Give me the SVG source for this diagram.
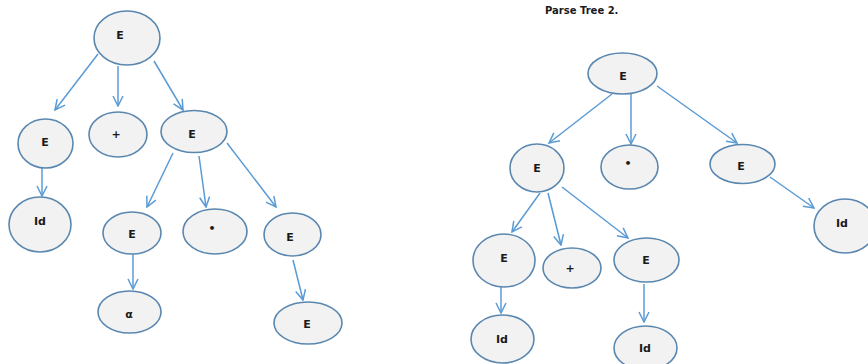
<svg xmlns="http://www.w3.org/2000/svg" width="868" height="364" viewBox="0 0 868 364">
<defs>
<marker id="arr" viewBox="0 0 12 12" refX="11" refY="6" markerWidth="12" markerHeight="12" markerUnits="userSpaceOnUse" orient="auto">
<path d="M1,1 L11,6 L1,11" fill="none" stroke="#5B9BD5" stroke-width="1.5"/>
</marker>
<style>
.n ellipse{fill:#F2F2F2;stroke:#5A87B0;stroke-width:1.6}
.n text{font-family:"DejaVu Sans","Liberation Sans",sans-serif;font-size:11px;font-weight:bold;fill:#1a1a1a;text-anchor:middle;dominant-baseline:central}
#edges line{stroke:#5B9BD5;stroke-width:1.5;marker-end:url(#arr)}
.title{font-family:"DejaVu Sans","Liberation Sans",sans-serif;font-size:10px;font-weight:bold;fill:#1a1a1a}
</style>
</defs>
<rect width="868" height="364" fill="#fff"/>
<text class="title" x="545" y="14">Parse Tree 2.</text>
<g id="edges">
<line x1="98" y1="54" x2="55" y2="110"/>
<line x1="118" y1="66" x2="118" y2="106"/>
<line x1="154" y1="61" x2="183" y2="110"/>
<line x1="42" y1="168" x2="42" y2="196"/>
<line x1="173" y1="153" x2="147" y2="207"/>
<line x1="199" y1="156" x2="206" y2="207"/>
<line x1="227" y1="143" x2="276" y2="207"/>
<line x1="133" y1="251" x2="133" y2="289"/>
<line x1="293" y1="260" x2="303" y2="300"/>
<line x1="612" y1="94" x2="549" y2="143"/>
<line x1="631" y1="94" x2="631" y2="144"/>
<line x1="657" y1="86" x2="737" y2="143"/>
<line x1="770" y1="177" x2="814" y2="208"/>
<line x1="540" y1="193" x2="512" y2="232"/>
<line x1="548" y1="193" x2="561" y2="245"/>
<line x1="562" y1="187" x2="628" y2="238"/>
<line x1="501" y1="287" x2="501" y2="313"/>
<line x1="644" y1="284" x2="644" y2="322"/>
</g>
<g id="t1-root" class="n"><ellipse cx="127" cy="38" rx="33" ry="27"/><text x="120" y="35">E</text></g>
<g id="t1-e1" class="n"><ellipse cx="45.5" cy="143.5" rx="27.5" ry="24.5"/><text x="45" y="142">E</text></g>
<g id="t1-plus" class="n"><ellipse cx="118" cy="134.5" rx="29" ry="22.5"/><text x="116" y="134">+</text></g>
<g id="t1-e2" class="n"><ellipse cx="194" cy="131.5" rx="33" ry="21"/><text x="192" y="134">E</text></g>
<g id="t1-id" class="n"><ellipse cx="40" cy="224.5" rx="31" ry="27.5"/><text x="40" y="221">Id</text></g>
<g id="t1-e3" class="n"><ellipse cx="132" cy="233" rx="29" ry="21"/><text x="132" y="234">E</text></g>
<g id="t1-star" class="n"><ellipse cx="215" cy="231.5" rx="32" ry="22.5"/><text x="212" y="228">•</text></g>
<g id="t1-e4" class="n"><ellipse cx="292.5" cy="234.5" rx="28.5" ry="21.5"/><text x="290" y="237">E</text></g>
<g id="t1-alpha" class="n"><ellipse cx="129.5" cy="312" rx="31.5" ry="21"/><text x="129" y="314">α</text></g>
<g id="t1-e5" class="n"><ellipse cx="308" cy="323" rx="34" ry="21"/><text x="307" y="324">E</text></g>
<g id="t2-root" class="n"><ellipse cx="622.5" cy="73.5" rx="34.5" ry="20.5"/><text x="623" y="76">E</text></g>
<g id="t2-e1" class="n"><ellipse cx="537" cy="168" rx="27" ry="24"/><text x="537" y="168">E</text></g>
<g id="t2-star" class="n"><ellipse cx="629.5" cy="167" rx="28.5" ry="22"/><text x="628" y="163">•</text></g>
<g id="t2-e2" class="n"><ellipse cx="742.5" cy="164" rx="32.5" ry="19.5"/><text x="741" y="166">E</text></g>
<g id="t2-id1" class="n"><ellipse cx="845" cy="226" rx="31" ry="27"/><text x="842" y="223">Id</text></g>
<g id="t2-e3" class="n"><ellipse cx="504" cy="260.5" rx="31" ry="26.5"/><text x="504" y="258">E</text></g>
<g id="t2-plus" class="n"><ellipse cx="572" cy="268" rx="29" ry="20"/><text x="570" y="268">+</text></g>
<g id="t2-e4" class="n"><ellipse cx="646.5" cy="260" rx="32.5" ry="22"/><text x="646" y="260">E</text></g>
<g id="t2-id2" class="n"><ellipse cx="502.5" cy="339" rx="31.5" ry="24"/><text x="502" y="339">Id</text></g>
<g id="t2-id3" class="n"><ellipse cx="645.5" cy="348" rx="31.5" ry="22"/><text x="645" y="348">Id</text></g>
</svg>
